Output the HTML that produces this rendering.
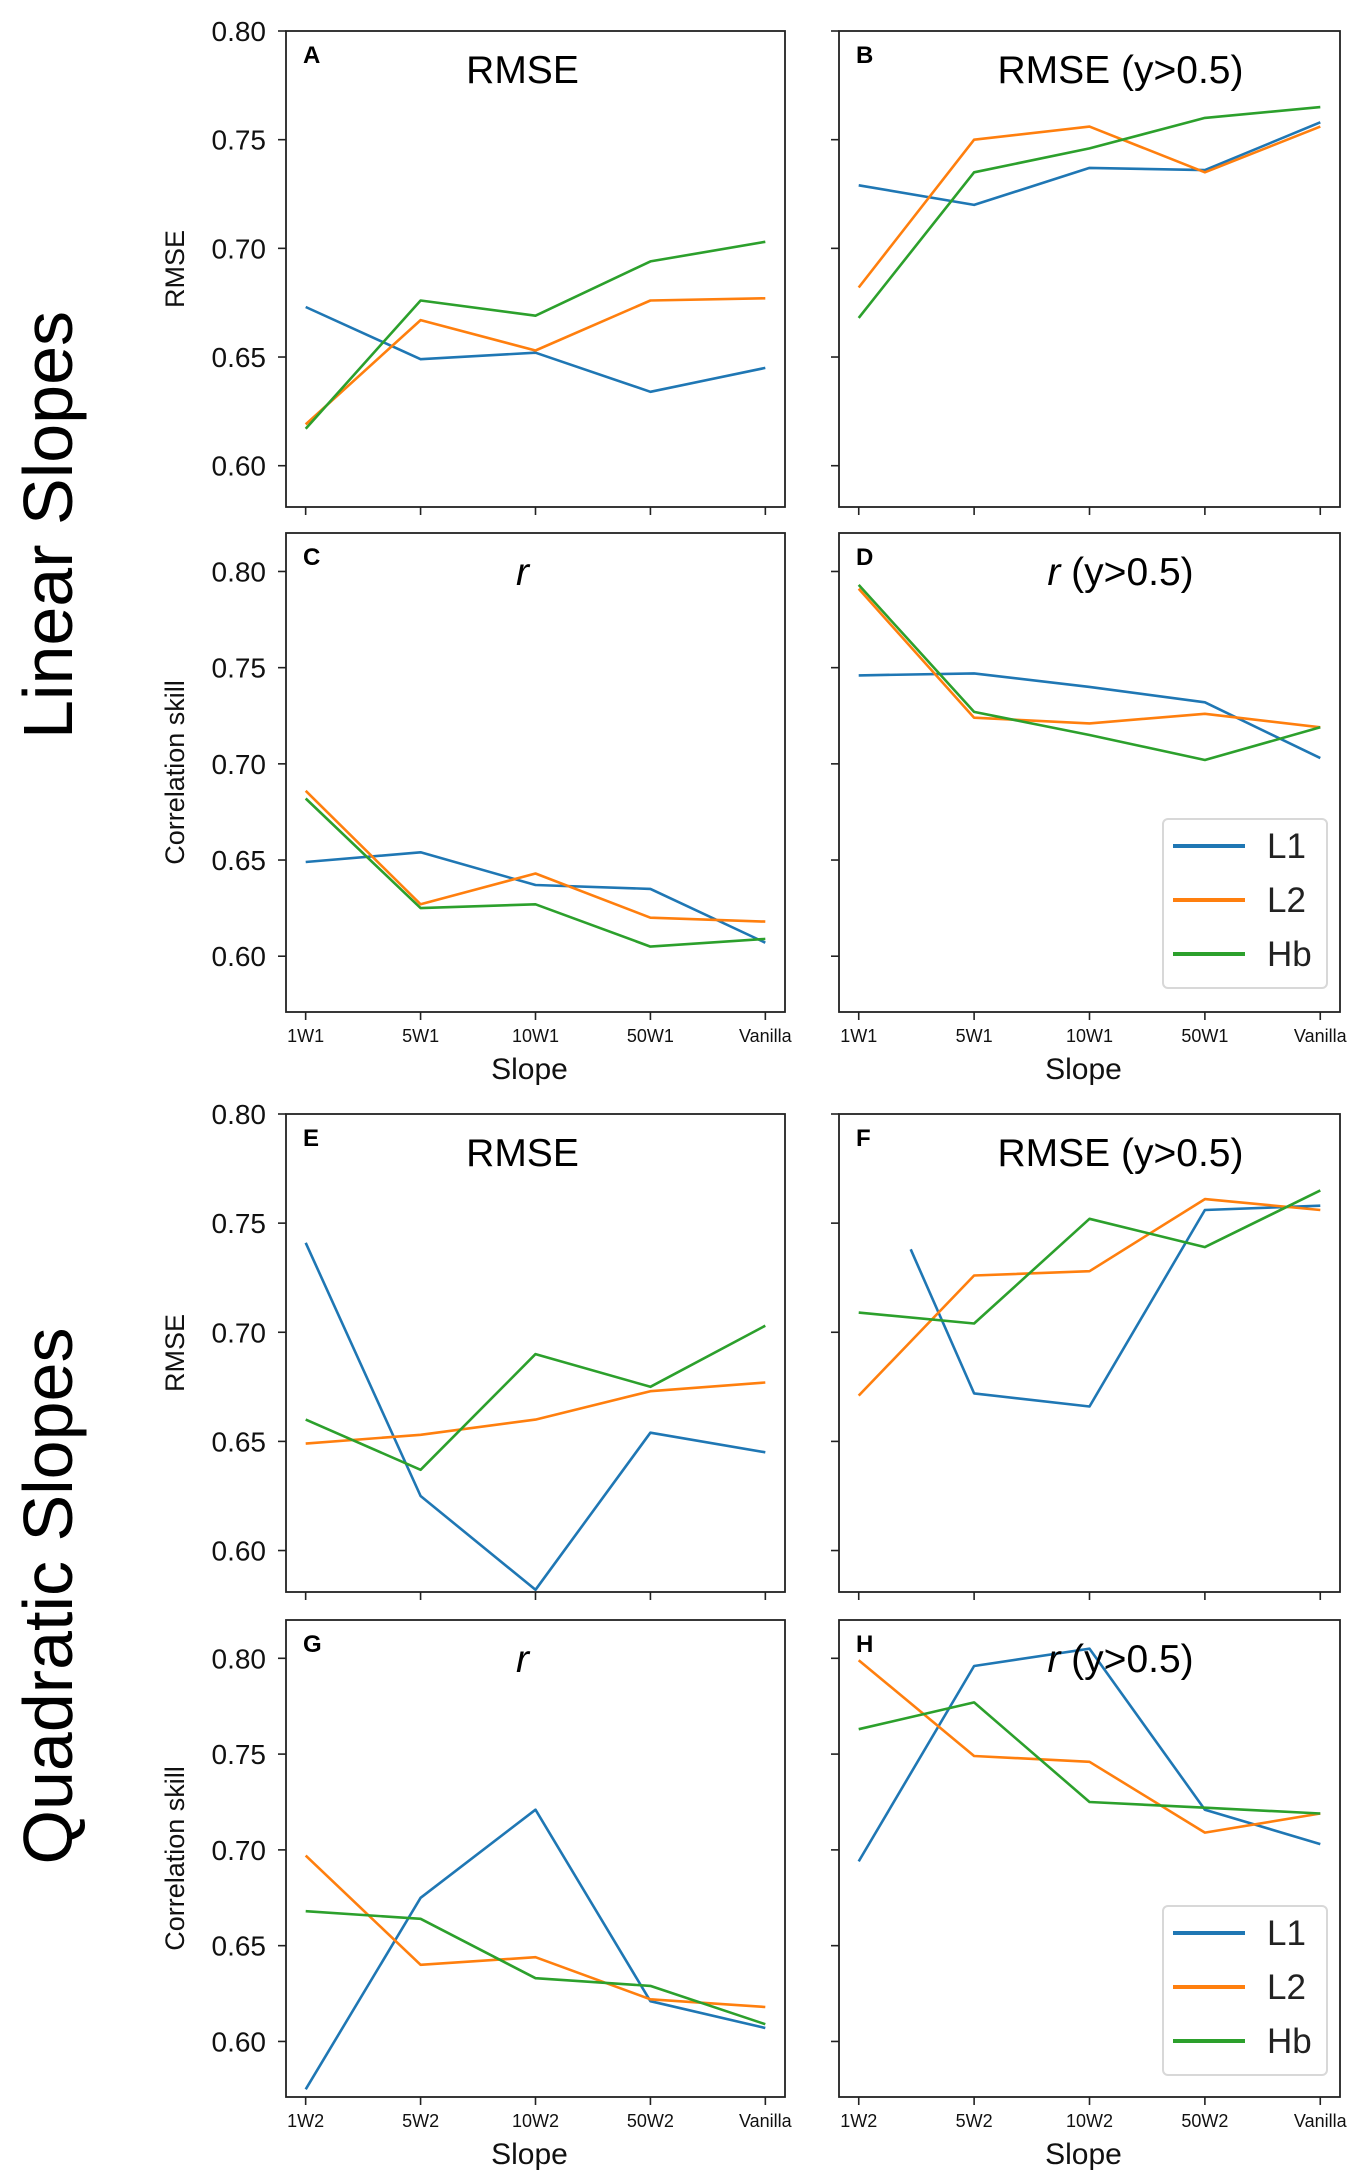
<!DOCTYPE html>
<html><head><meta charset="utf-8"><style>
html,body{margin:0;padding:0;background:#fff;}
svg{display:block;font-family:"Liberation Sans","DejaVu Sans",sans-serif;}
</style></head><body>
<svg id="fig" width="1358" height="2184" viewBox="0 0 1358 2184" xmlns="http://www.w3.org/2000/svg">
<text x="0" y="0" transform="translate(72,525) rotate(-90)" text-anchor="middle" font-size="70">Linear Slopes</text>
<text x="0" y="0" transform="translate(72,1596) rotate(-90)" text-anchor="middle" font-size="70">Quadratic Slopes</text>
</svg>
<script>
const catsLinear = ['1W1','5W1','10W1','50W1','Vanilla'];
const catsQuad = ['1W2','5W2','10W2','50W2','Vanilla'];
const yTicks = [0.60,0.65,0.70,0.75,0.80];
const seriesNames = ['L1','L2','Hb'];
const seriesColors = ['#1f77b4','#ff7f0e','#2ca02c'];

const A_L1=[0.673,0.649,0.652,0.634,0.645], A_L2=[0.619,0.667,0.653,0.676,0.677], A_Hb=[0.617,0.676,0.669,0.694,0.703];
const B_L1=[0.729,0.720,0.737,0.736,0.758], B_L2=[0.682,0.750,0.756,0.735,0.756], B_Hb=[0.668,0.735,0.746,0.760,0.765];
const C_L1=[0.649,0.654,0.637,0.635,0.607], C_L2=[0.686,0.627,0.643,0.620,0.618], C_Hb=[0.682,0.625,0.627,0.605,0.609];
const D_L1=[0.746,0.747,0.740,0.732,0.703], D_L2=[0.791,0.724,0.721,0.726,0.719], D_Hb=[0.793,0.727,0.715,0.702,0.719];
const E_L1=[0.741,0.625,0.582,0.654,0.645], E_L2=[0.649,0.653,0.660,0.673,0.677], E_Hb=[0.660,0.637,0.690,0.675,0.703];
const F_L1=[0.738,0.672,0.666,0.756,0.758], F_L2=[0.671,0.726,0.728,0.761,0.756], F_Hb=[0.709,0.704,0.752,0.739,0.765];
const F_L1_idx=[0.45,1,2,3,4];
const G_L1=[0.575,0.675,0.721,0.621,0.607], G_L2=[0.697,0.640,0.644,0.622,0.618], G_Hb=[0.668,0.664,0.633,0.629,0.609];
const H_L1=[0.694,0.796,0.805,0.721,0.703], H_L2=[0.799,0.749,0.746,0.709,0.719], H_Hb=[0.763,0.777,0.725,0.722,0.719];

const NS='http://www.w3.org/2000/svg';
const svg=document.getElementById('fig');
function mk(tag,attrs,parent){const e=document.createElementNS(NS,tag);for(const k in attrs)e.setAttribute(k,attrs[k]);(parent||svg).appendChild(e);return e;}

const panels=[
 {id:'A',x0:286,x1:785,y0:31,y1:507,ylim:[0.581,0.80],title:'RMSE',cats:catsLinear,data:[A_L1,A_L2,A_Hb],left:true,ylab:'RMSE',xl:false},
 {id:'B',x0:839,x1:1340,y0:31,y1:507,ylim:[0.581,0.80],title:'RMSE (y>0.5)',cats:catsLinear,data:[B_L1,B_L2,B_Hb],left:false,xl:false},
 {id:'C',x0:286,x1:785,y0:533,y1:1012,ylim:[0.571,0.820],title:'r',cats:catsLinear,data:[C_L1,C_L2,C_Hb],left:true,ylab:'Correlation skill',xl:true},
 {id:'D',x0:839,x1:1340,y0:533,y1:1012,ylim:[0.571,0.820],title:'r (y>0.5)',cats:catsLinear,data:[D_L1,D_L2,D_Hb],left:false,xl:true,legend:true},
 {id:'E',x0:286,x1:785,y0:1114,y1:1592,ylim:[0.581,0.80],title:'RMSE',cats:catsQuad,data:[E_L1,E_L2,E_Hb],left:true,ylab:'RMSE',xl:false},
 {id:'F',x0:839,x1:1340,y0:1114,y1:1592,ylim:[0.581,0.80],title:'RMSE (y>0.5)',cats:catsQuad,data:[F_L1,F_L2,F_Hb],left:false,xl:false,l1idx:F_L1_idx},
 {id:'G',x0:286,x1:785,y0:1620,y1:2097,ylim:[0.571,0.820],title:'r',cats:catsQuad,data:[G_L1,G_L2,G_Hb],left:true,ylab:'Correlation skill',xl:true},
 {id:'H',x0:839,x1:1340,y0:1620,y1:2097,ylim:[0.571,0.820],title:'r (y>0.5)',cats:catsQuad,data:[H_L1,H_L2,H_Hb],left:false,xl:true,legend:true}
];

panels.forEach(p=>{
 const g=mk('g',{});
 
 
 const pad=0.171;
 const xs=i=>p.x0+(i+pad)/(4+2*pad)*(p.x1-p.x0);
 const ys=v=>p.y1-(v-p.ylim[0])/(p.ylim[1]-p.ylim[0])*(p.y1-p.y0);
 p.data.forEach((arr,si)=>{
  const idx=(si===0&&p.l1idx)?p.l1idx:[0,1,2,3,4];
  const pts=arr.map((v,i)=>xs(idx[i]).toFixed(1)+','+ys(v).toFixed(1)).join(' ');
  const pl=mk('polyline',{points:pts,fill:'none',stroke:seriesColors[si],'stroke-width':2.6,'stroke-linejoin':'round'},g);
  
  
 });
 const fr=mk('rect',{x:p.x0,y:p.y0,width:p.x1-p.x0,height:p.y1-p.y0,fill:'none',stroke:'#222','stroke-width':1.8},g);
 
 
 yTicks.forEach(t=>{
  const y=ys(t);
  mk('line',{x1:p.x0-8,x2:p.x0,y1:y,y2:y,stroke:'#222','stroke-width':1.6},g);
  if(p.left){
   const tx=mk('text',{x:p.x0-20,y:y+10,'text-anchor':'end','font-size':28,fill:'#111'},g);
   tx.textContent=t.toFixed(2);
   
   
  }
 });
 p.cats.forEach((c,i)=>{
  const x=xs(i);
  mk('line',{x1:x,x2:x,y1:p.y1,y2:p.y1+8,stroke:'#222','stroke-width':1.6},g);
  if(p.xl){
   const tx=mk('text',{x:x,y:p.y1+30,'text-anchor':'middle','font-size':18,fill:'#111'},g);
   tx.textContent=c;
   
   
  }
 });
 if(p.xl){
  const xt=mk('text',{x:(p.x0+p.x1)/2-6,y:p.y1+67,'text-anchor':'middle','font-size':30,fill:'#111'},g);
  xt.textContent='Slope';
  
  
 }
 if(p.ylab){
  const cy=(p.y0+p.y1)/2;
  const yt=mk('text',{x:0,y:0,transform:'translate(184,'+cy+') rotate(-90)','text-anchor':'middle','font-size':27,fill:'#111'},g);
  yt.textContent=p.ylab;
  
  
 }
 const lt=mk('text',{x:p.x0+17,y:p.y0+32,'font-size':24,'font-weight':'bold',fill:'#000'},g);
 lt.textContent=p.id;
 
 
 const tOff=p.left?-13:31;
 const tt=mk('text',{x:(p.x0+p.x1)/2+tOff,y:p.y0+52,'text-anchor':'middle','font-size':39,fill:'#000'},g);
 if(p.title.startsWith('r')){
  const a=mk('tspan',{'font-style':'italic'},tt);a.textContent='r';
  const b=mk('tspan',{},tt);b.textContent=p.title.slice(1);
 } else tt.textContent=p.title;
 
 
 if(p.legend){
  const lx=1163, ly=p.y0+286;
  const lg=mk('g',{},g);
  
  
  mk('rect',{x:lx,y:ly,width:164,height:169,rx:5,fill:'#fff',stroke:'#d8d8d8','stroke-width':2},lg);
  seriesNames.forEach((n,si)=>{
   const yy=ly+27+si*54;
   const e=mk('g',{},lg);
   
   
   mk('line',{x1:lx+10,x2:lx+82,y1:yy,y2:yy,stroke:seriesColors[si],'stroke-width':4},e);
   const t=mk('text',{x:lx+104,y:yy+12,'font-size':35,fill:'#222'},e);
   t.textContent=n;
  });
 }
});
</script>
</body></html>
